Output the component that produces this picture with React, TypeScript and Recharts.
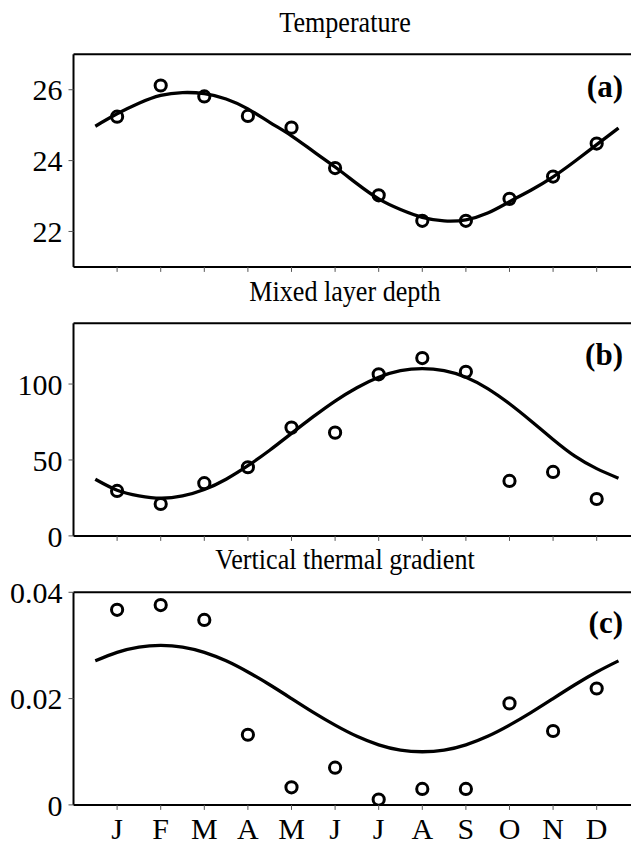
import React from 'react';
import { ComposedChart, Line, Scatter, XAxis, YAxis } from 'recharts';

const months = [1, 2, 3, 4, 5, 6, 7, 8, 9, 10, 11, 12];
const monthLabels = ['J', 'F', 'M', 'A', 'M', 'J', 'J', 'A', 'S', 'O', 'N', 'D'];

const tempObs = [25.24, 26.12, 25.81, 25.26, 24.93, 23.79, 23.02, 22.3, 22.3, 22.92, 23.55, 24.48];
const mldObs = [29.6, 21, 34.7, 45.2, 71.3, 68, 106.4, 117.1, 108.1, 36.2, 42.1, 24.3];
const gradObs = [0.0367, 0.0376, 0.0348, 0.0132, 0.0033, 0.007, 0.001, 0.003, 0.003, 0.0191, 0.0139, 0.0219];

const fitMonths = [0.5, 1, 1.5, 2, 2.5, 3, 3.5, 4, 4.5, 5, 5.5, 6, 6.5, 7, 7.5, 8, 8.5, 9, 9.5, 10, 10.5, 11, 11.5, 12, 12.5];
const tempFit = [24.97, 25.32, 25.62, 25.84, 25.92, 25.89, 25.74, 25.46, 25.08, 24.7, 24.26, 23.82, 23.35, 22.92, 22.62, 22.4, 22.3, 22.33, 22.52, 22.84, 23.17, 23.54, 23.98, 24.45, 24.92];
const mldFit = [37.3, 30.1, 26.4, 24.8, 26.3, 30.5, 37.3, 46.2, 56.4, 67.5, 78.5, 88.8, 97.6, 104.5, 108.8, 110.2, 108.8, 104.5, 97, 87, 75.5, 63.5, 52.5, 44.3, 38];
const gradFit = [0.0271, 0.0287, 0.0297, 0.03, 0.0297, 0.0287, 0.0271, 0.025, 0.0226, 0.02, 0.0174, 0.015, 0.0129, 0.0113, 0.0103, 0.01, 0.0103, 0.0113, 0.0129, 0.015, 0.0174, 0.02, 0.0226, 0.025, 0.0271];

const tempTicks = [22, 24, 26];
const mldTicks = [0, 50, 100];
const gradTicks = [0, 0.02, 0.04];

const titles = ['Temperature', 'Mixed layer depth', 'Vertical thermal gradient'];
const panelTags = ['(a)', '(b)', '(c)'];

const FONT = '"Liberation Serif", "Times New Roman", serif';

const circleShape = (p: any) => (
  <circle cx={p.cx} cy={p.cy} r={5.6} fill="none" stroke="#000" strokeWidth={3} />
);

type PanelProps = {
  top: number;
  obs: number[];
  fit: number[];
  yDomain: [number, number];
  yTicks: number[];
  yFmt?: (v: number) => string;
  showMonths: boolean;
  bottomH: number;
};

const Panel = ({ top, obs, fit, yDomain, yTicks, yFmt, showMonths, bottomH }: PanelProps) => {
  const obsData = months.map((m, i) => ({ m, v: obs[i] }));
  const fitData = fitMonths.map((m, i) => ({ m, v: fit[i] }));
  const plotH = 212.6;
  const height = 36.3 + 10 + plotH + bottomH;
  const tickStyle = { fill: '#000', fontSize: 30, fontFamily: FONT };
  return (
    <div style={{ position: 'absolute', left: 0, top }}>
      <ComposedChart width={640.3} height={height} margin={{ top: 36.3, right: 0, bottom: 0, left: 0 }} style={{ overflow: 'visible' }}>
        <XAxis
          xAxisId="top"
          orientation="top"
          type="number"
          domain={[0, 13]}
          ticks={months}
          allowDataOverflow
          height={10}
          tickSize={5}
          tickFormatter={() => ''}
          axisLine={{ stroke: '#000', strokeWidth: 2 }}
          tickLine={{ stroke: '#555', strokeWidth: 1 }}
        />
        <XAxis
          dataKey="m"
          type="number"
          domain={[0, 13]}
          ticks={months}
          allowDataOverflow
          height={bottomH}
          tickSize={5}
          tickMargin={8}
          interval={0}
          tickFormatter={(v: number) => (showMonths ? monthLabels[v - 1] : '')}
          axisLine={{ stroke: '#000', strokeWidth: 2 }}
          tickLine={{ stroke: '#555', strokeWidth: 1 }}
          tick={tickStyle}
        />
        <YAxis
          type="number"
          domain={yDomain}
          ticks={yTicks}
          allowDataOverflow
          width={73.5}
          tickSize={5}
          tickMargin={6}
          interval={0}
          tickFormatter={yFmt}
          axisLine={{ stroke: '#000', strokeWidth: 2 }}
          tickLine={{ stroke: '#555', strokeWidth: 1 }}
          tick={tickStyle}
        />
        <Line
          data={fitData}
          dataKey="v"
          type="natural"
          stroke="#000"
          strokeWidth={3.3}
          dot={false}
          activeDot={false}
          isAnimationActive={false}
        />
        <Scatter data={obsData} dataKey="v" shape={circleShape} isAnimationActive={false} />
      </ComposedChart>
    </div>
  );
};

const gradFmt = (v: number) => (v === 0 ? '0' : v.toFixed(2));

const titleY = [32.3, 300.5, 569.3];
const tagY = [97, 365, 633];

export default function App() {
  return (
    <div style={{ position: 'relative', margin: '-8px 0 0 -8px', width: 639, height: 844, overflow: 'hidden', background: '#fff' }}>
      <Panel top={8} obs={tempObs} fit={tempFit} yDomain={[21, 27]} yTicks={tempTicks} showMonths={false} bottomH={26} />
      <Panel top={277} obs={mldObs} fit={mldFit} yDomain={[0, 140]} yTicks={mldTicks} showMonths={false} bottomH={26} />
      <Panel top={546} obs={gradObs} fit={gradFit} yDomain={[0, 0.04]} yTicks={gradTicks} yFmt={gradFmt} showMonths={true} bottomH={45} />
      <svg width={639} height={844} style={{ position: 'absolute', left: 0, top: 0, pointerEvents: 'none' }}>
        <g fontFamily={FONT} fill="#000">
          {titles.map((t, i) => (
            <text key={t} transform={`translate(345,${titleY[i]}) scale(0.9,1)`} fontSize={29} textAnchor="middle">{t}</text>
          ))}
          {panelTags.map((t, i) => (
            <text key={t} x={623} y={tagY[i]} fontSize={31} fontWeight="bold" textAnchor="end">{t}</text>
          ))}
        </g>
      </svg>
    </div>
  );
}
